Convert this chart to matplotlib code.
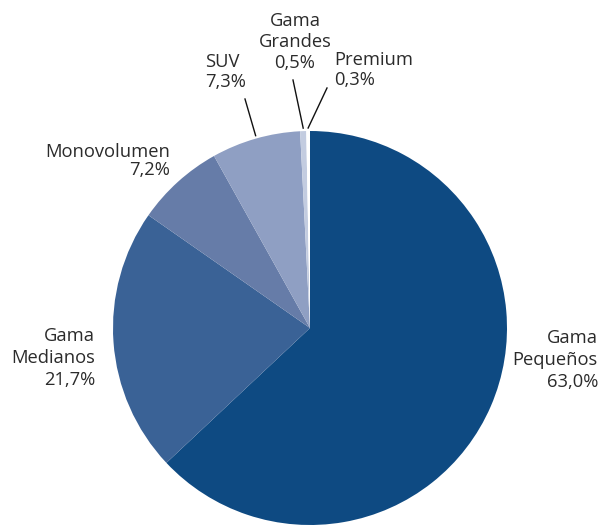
import numpy as np
import matplotlib
matplotlib.use("Agg")
import matplotlib.pyplot as plt

plt.rcParams['font.family'] = ['Open Sans', 'DejaVu Sans']

labels = ["Gama\nPequeños", "Gama\nMedianos", "Monovolumen", "SUV", "Gama\nGrandes", "Premium"]
shares = [63.0, 21.7, 7.2, 7.3, 0.5, 0.3]
colors = ["#0e4a82", "#3a6296", "#667ca8", "#8f9fc3", "#c3cce0", "#ffffff"]

W, H = 601, 527
cx, cy, r = 310, H - 328, 197

fig = plt.figure(figsize=(W / 100, H / 100), dpi=100)
ax = fig.add_axes([0, 0, 1, 1])
ax.set_xlim(0, W)
ax.set_ylim(0, H)
ax.set_aspect("equal")
ax.axis("off")

wedges, _ = ax.pie(shares, colors=colors, startangle=90, counterclock=False,
                   center=(cx, cy), radius=r,
                   wedgeprops=dict(linewidth=0))
ax.set_xlim(0, W)
ax.set_ylim(0, H)

txt = dict(color="#2b2b2b", fontsize=13.2, linespacing=1.3)

def pct(v):
    return f"{v:.1f}%".replace(".", ",")

# label positions (pixels from top-left), alignment
pos = [
    (598, 360, "right", "center", 1.3),
    (95, 358, "right", "center", 1.3),
    (170, 161, "right", "center", 1.0),
    (205, 72, "left", "center", 1.1),
    (295, 42, "center", "center", 1.2),
    (334, 70, "left", "center", 1.1),
]
leader_start = {3: (245, 99), 4: (293, 80), 5: (327, 88)}

for i, (lab, v) in enumerate(zip(labels, shares)):
    x, y, ha, va, ls = pos[i]
    t = dict(txt, linespacing=ls)
    ax.text(x, H - y, f"{lab}\n{pct(v)}", ha=ha, va=va, multialignment=ha, **t)
    if i in leader_start:
        w = wedges[i]
        ang = np.deg2rad((w.theta1 + w.theta2) / 2)
        ex, ey = cx + r * np.cos(ang), cy + r * np.sin(ang) + 3
        sx, sy = leader_start[i]
        ax.plot([sx, ex], [H - sy, ey], color="#111111", lw=1)

fig.savefig("out.png", dpi=100)
